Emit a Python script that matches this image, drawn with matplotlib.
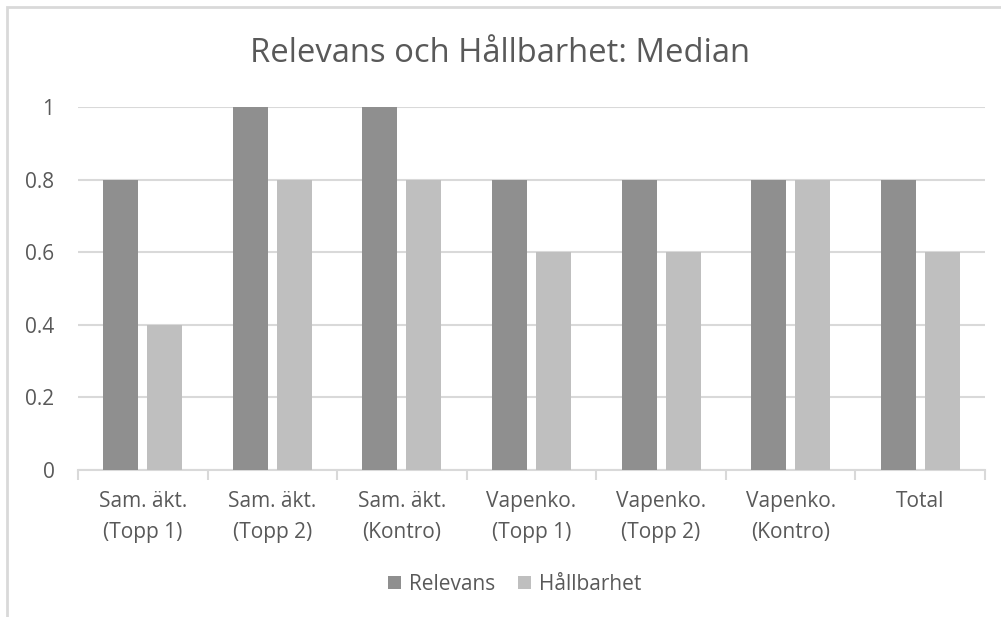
import matplotlib
matplotlib.use("Agg")
import matplotlib.pyplot as plt
import numpy as np
from matplotlib.patches import Rectangle

categories = ["Sam. äkt.\n(Topp 1)", "Sam. äkt.\n(Topp 2)", "Sam. äkt.\n(Kontro)",
              "Vapenko.\n(Topp 1)", "Vapenko.\n(Topp 2)", "Vapenko.\n(Kontro)", "Total"]
relevans = [0.8, 1.0, 1.0, 0.8, 0.8, 0.8, 0.8]
hallbarhet = [0.4, 0.8, 0.8, 0.6, 0.6, 0.8, 0.6]
yticks = [0, 0.2, 0.4, 0.6, 0.8, 1]
ytick_labels = ["0", "0.2", "0.4", "0.6", "0.8", "1"]

plt.rcParams['font.family'] = ['Open Sans', 'DejaVu Sans']
text_color = "#595959"
dark = "#8f8f8f"
light = "#bfbfbf"
grid_color = "#d9d9d9"

W, H = 1001, 617
fig = plt.figure(figsize=(W / 100, H / 100), dpi=100)

# outer border (partially cropped in reference)
fig.patches.append(Rectangle((7 / W, -0.1), 1.2, (H - 7) / H + 0.1, transform=fig.transFigure,
                             fill=False, edgecolor=grid_color, linewidth=2))

left, right, top, bottom = 78, 985, 107, 470
ax = fig.add_axes([left / W, 1 - bottom / H, (right - left) / W, (bottom - top) / H])

n = len(categories)
x = np.arange(n)
bw = 0.27
off = 0.035
ax.bar(x - bw / 2 - off, relevans, width=bw, color=dark, label="Relevans", zorder=3)
ax.bar(x + bw / 2 + off, hallbarhet, width=bw, color=light, label="Hållbarhet", zorder=3)

ax.set_xlim(-0.5, n - 0.5)
ax.set_ylim(0, 1)
ax.set_yticks(yticks)
ax.set_yticklabels(ytick_labels)
ax.yaxis.grid(True, color=grid_color, linewidth=1.5, zorder=0)
ax.set_axisbelow(True)
for s in ["top", "right", "left"]:
    ax.spines[s].set_visible(False)
ax.spines["bottom"].set_color(grid_color)
ax.spines["bottom"].set_linewidth(1.5)
ax.tick_params(axis="y", length=0, pad=17, labelsize=15, labelcolor=text_color)
ax.set_xticks(x)
ax.set_xticklabels(categories, fontsize=15, color=text_color, linespacing=1.65)
ax.tick_params(axis="x", length=0, pad=15)
ax.set_xticks(np.arange(n + 1) - 0.5, minor=True)
ax.tick_params(axis="x", which="minor", length=7, width=1.5, color=grid_color)

fig.text(0.5, 1 - 53 / H, "Relevans och Hållbarhet: Median", ha="center", va="center",
         fontsize=23.6, color=text_color)

leg = ax.legend(loc="center", bbox_to_anchor=(515 / W, 1 - 584 / H), bbox_transform=fig.transFigure,
                ncol=2, frameon=False, fontsize=15, labelcolor=text_color,
                handlelength=0.6, handleheight=0.6, handletextpad=0.4, columnspacing=1.1)

fig.savefig("out.png", dpi=100, facecolor="white")
